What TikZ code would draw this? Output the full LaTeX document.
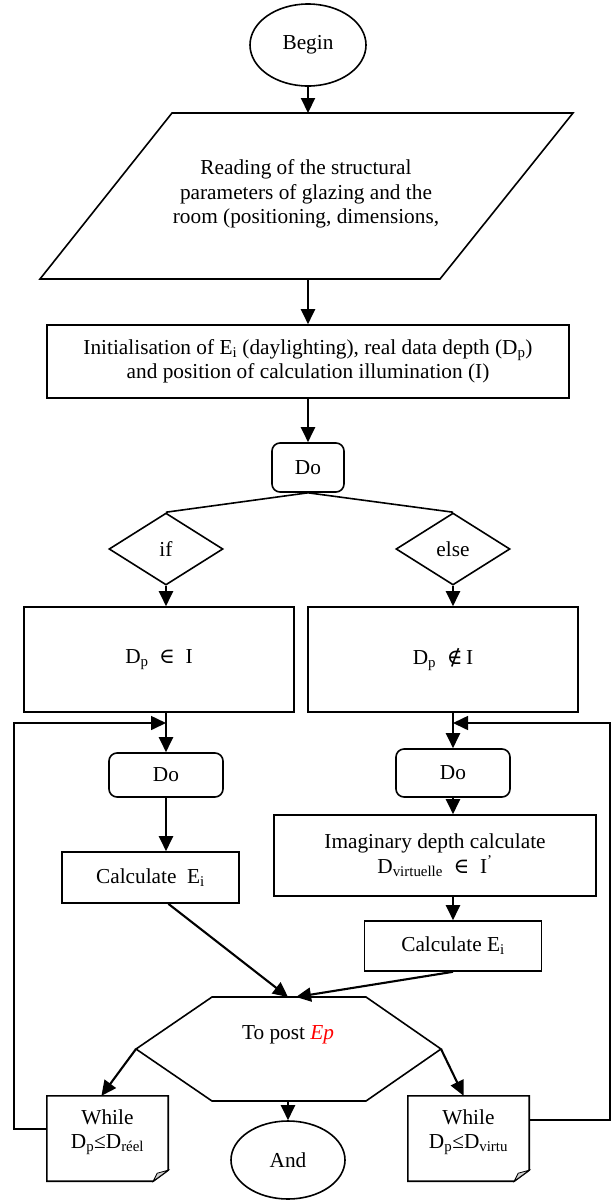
\documentclass[tikz,border=0pt]{standalone}
\usepackage{fontspec}
\setmainfont{Liberation Serif}
\newfontfamily\symfnt{DejaVu Serif}
\usetikzlibrary{shapes.geometric,arrows.meta,calc}
\begin{document}
\begin{tikzpicture}[x=1pt,y=-1pt,
  every node/.style={font=\fontsize{21.3}{24.5}\selectfont, align=center, inner sep=0pt},
  ln/.style={line width=1.6pt},
  bx/.style={draw, line width=1.6pt},
  rbx/.style={draw, line width=1.6pt, rounded corners=8pt},
  arr/.style={line width=2.1pt, -{Triangle[length=15pt,width=14pt]}},
  loopline/.style={line width=1.6pt, -{Triangle[length=15pt,width=14pt]}},
  fold/.style={fill=gray!35, draw, line width=0.8pt}
]
\useasboundingbox (0,0) rectangle (611,1200);

% Begin
\node[bx, ellipse, minimum width=116, minimum height=82] (begin) at (308,45) {Begin};

% Reading parallelogram
\draw[ln] (172,113) -- (573,113) -- (440,279) -- (40,279) -- cycle;
\coordinate (readT) at (308,113);
\coordinate (readB) at (308,279);
\node (read) at (306,194) {Reading of the structural\\parameters of glazing and the\\room (positioning, dimensions,};

% Initialisation
\node[bx, minimum width=522, minimum height=73] (init) at (308,361.5)
  {Initialisation of E\textsubscript{i} (daylighting), real data depth (D\textsubscript{p})\\and position of calculation illumination (I)};

% Do
\node[rbx, minimum width=72, minimum height=49] (do1) at (308,467.5) {Do};

% diamonds
\node[bx, diamond, minimum width=114, minimum height=72] (ifd) at (166,549) {if};
\node[bx, diamond, minimum width=114, minimum height=72] (elsed) at (453,549) {else};

% condition boxes
\node[bx, minimum width=270, minimum height=105] (boxL) at (159,659.5) {D\textsubscript{p}\ \ {\symfnt ∈}\ \ I};
\node[bx, minimum width=270, minimum height=105] (boxR) at (443,659.5) {D\textsubscript{p}\ \ {\symfnt ∉}\,I};

% left branch
\node[rbx, minimum width=114, minimum height=44] (doL) at (166,775) {Do};
\node[bx, minimum width=177, minimum height=51] (calcL) at (150.5,877.5) {Calculate\ \ E\textsubscript{i}};

% right branch
\node[rbx, minimum width=114, minimum height=48] (doR) at (453,773) {Do};
\node[bx, minimum width=322, minimum height=81] (imag) at (435,855.5)
  {Imaginary depth calculate\\D\textsubscript{virtuelle}\ \ {\symfnt ∈}\ \ I\textsuperscript{'}};
\node[bx, minimum width=177, minimum height=50] (calcR) at (453,946) {Calculate E\textsubscript{i}};

% hexagon
\draw[ln] (212,997) -- (366,997) -- (441,1049) -- (366,1101) -- (212,1101) -- (136,1049) -- cycle;
\coordinate (hexL) at (136,1049);
\coordinate (hexR) at (441,1049);
\coordinate (hexT) at (288,997);
\coordinate (hexT2) at (296,997);
\coordinate (hexB) at (288,1101);
\node (hex) at (288,1035) {To post \textcolor{red}{\itshape Ep}};

% while boxes (dog-eared)
\node[minimum width=121, minimum height=85] (whileL) at (107.5,1138.5) {};
\node[minimum width=121, minimum height=85] (whileR) at (468.5,1138.5) {};
\foreach \w in {whileL,whileR}{
  \draw[ln] (\w.north west) -- (\w.north east) -- ([yshift=11pt]\w.south east)
    -- ([xshift=-15pt]\w.south east) -- (\w.south west) -- cycle;
  \draw[fold] ([yshift=11pt]\w.south east) -- ([xshift=-15pt]\w.south east)
    -- ([xshift=-11pt,yshift=8pt]\w.south east) -- cycle;
}
\node (whileLtxt) at (107.5,1132) {While\\D\textsubscript{p}≤D\textsubscript{réel}};
\node (whileRtxt) at (468.5,1132) {While\\D\textsubscript{p}≤D\textsubscript{virtu}};

% And
\node[bx, ellipse, minimum width=114, minimum height=78] (andE) at (288,1160) {And};

% connectors
\draw[arr] (begin.south) -- (readT);
\draw[arr] (readB) -- (init.north);
\draw[arr] (init.south) -- (do1.north);
\draw[ln] (do1.south) -- (ifd.north);
\draw[ln] (do1.south) -- (elsed.north);
\draw[arr] (ifd.south) -- (ifd.south |- boxL.north);
\draw[arr] (elsed.south) -- (elsed.south |- boxR.north);
\draw[arr] (boxL.south -| doL.north) -- (doL.north);
\draw[arr] (doL.south) -- (doL.south |- calcL.north);
\draw[arr] (boxR.south -| doR.north) -- (doR.north);
\draw[arr] (doR.south) -- (doR.south |- imag.north);
\draw[arr] (imag.south -| calcR.north) -- (calcR.north);
\draw[arr] ($(calcL.south west)!0.6!(calcL.south east)$) -- (hexT);
\draw[arr] (calcR.south) -- (hexT2);
\draw[arr] (hexL) -- ($(whileL.north west)!0.45!(whileL.north east)$);
\draw[arr] (hexR) -- ($(whileR.north west)!0.46!(whileR.north east)$);
\draw[arr] (hexB) -- (andE.north);

% loops
\coordinate (loopL) at (14,723);
\coordinate (loopR) at (610,723);
\draw[loopline] ([yshift=9.5pt]whileL.west) -| (loopL) -- (loopL -| doL.north);
\draw[loopline] ([yshift=18.5pt]whileR.east) -| (loopR) -- (loopR -| doR.north);
\end{tikzpicture}
\end{document}
